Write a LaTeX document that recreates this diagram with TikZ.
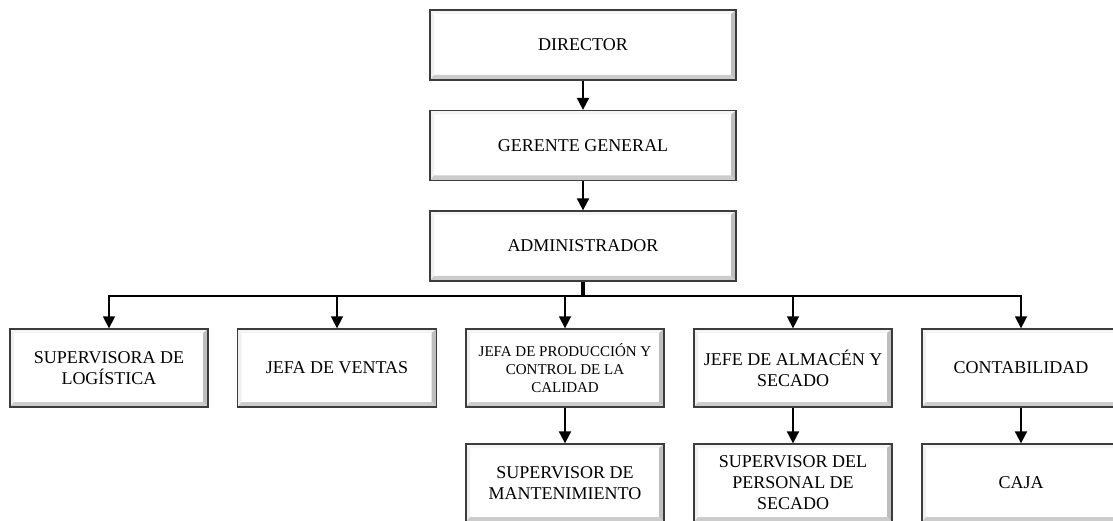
\documentclass[tikz,border=0pt]{standalone}
\usepackage{fontspec}
\setmainfont{Liberation Serif}
\usetikzlibrary{arrows.meta}
\definecolor{edgegray}{HTML}{3C3C3C}
\tikzset{
  orgbox/.style={draw=edgegray, line width=1.3bp, fill=white, inner sep=0pt, align=center,
    font=\fontsize{18bp}{21bp}\selectfont,
    path picture={
      % left (light)
      \fill[gray!12] (path picture bounding box.south west) -- ([shift={(4bp,5bp)}]path picture bounding box.south west) -- ([shift={(4bp,-4bp)}]path picture bounding box.north west) -- (path picture bounding box.north west) -- cycle;
      % top (light)
      \fill[gray!8] (path picture bounding box.north west) -- ([shift={(4bp,-4bp)}]path picture bounding box.north west) -- ([shift={(-5bp,-4bp)}]path picture bounding box.north east) -- (path picture bounding box.north east) -- cycle;
      % right (dark)
      \fill[gray!50] (path picture bounding box.north east) -- ([shift={(-5bp,-4bp)}]path picture bounding box.north east) -- ([shift={(-5bp,5bp)}]path picture bounding box.south east) -- (path picture bounding box.south east) -- cycle;
      % bottom (dark)
      \fill[gray!40] (path picture bounding box.south east) -- ([shift={(-5bp,5bp)}]path picture bounding box.south east) -- ([shift={(4bp,5bp)}]path picture bounding box.south west) -- (path picture bounding box.south west) -- cycle;
    }},
  smallfont/.style={font=\fontsize{15bp}{18.3bp}\selectfont},
  arr/.style={line width=2bp, -{Triangle[width=12bp,length=12bp]}},
  busarr/.style={line width=1.6bp, -{Triangle[width=12bp,length=12bp]}},
}
\begin{document}
\begin{tikzpicture}[x=1bp, y=-1bp]
\clip (0,0) rectangle (1113,521);
\fill[white] (0,0) rectangle (1113,521);
% top column
\node[orgbox, minimum width=306bp, minimum height=70bp] (dir) at (583,45) {DIRECTOR};
\node[orgbox, minimum width=306bp, minimum height=70bp] (ger) at (583,145.5) {GERENTE GENERAL};
\node[orgbox, minimum width=306bp, minimum height=70bp] (adm) at (583,246) {ADMINISTRADOR};
% second row
\node[orgbox, minimum width=198bp, minimum height=78bp] (sup) at (109,368) {SUPERVISORA DE\\LOGÍSTICA};
\node[orgbox, minimum width=199bp, minimum height=78bp] (ven) at (337,368) {JEFA DE VENTAS};
\node[orgbox, smallfont, minimum width=198bp, minimum height=78bp] (pro) at (565,368) {JEFA DE PRODUCCIÓN Y\\CONTROL DE LA\\CALIDAD};
\node[orgbox, minimum width=198bp, minimum height=78bp] (alm) at (793,368) {JEFE DE ALMACÉN Y\\SECADO};
\node[orgbox, minimum width=198bp, minimum height=78bp] (con) at (1021,368) {CONTABILIDAD};
% third row
\node[orgbox, minimum width=198bp, minimum height=78bp] (man) at (565,483) {SUPERVISOR DE\\MANTENIMIENTO};
\node[orgbox, minimum width=198bp, minimum height=78bp] (per) at (793,483) {SUPERVISOR DEL\\PERSONAL DE\\SECADO};
\node[orgbox, minimum width=198bp, minimum height=78bp] (caj) at (1021,483) {CAJA};
% connectors
\draw[arr] (dir) -- (ger);
\draw[arr] (ger) -- (adm);
\coordinate (bus) at (583,296);
\draw[line width=3.2bp] (adm.south) -- (bus);
\draw[busarr] (bus) -| (sup);
\draw[busarr] (bus) -| (ven);
\draw[busarr] (bus) -| (pro);
\draw[busarr] (bus) -| (alm);
\draw[busarr] (bus) -| (con);
\draw[arr] (pro) -- (man);
\draw[arr] (alm) -- (per);
\draw[arr] (con) -- (caj);
\end{tikzpicture}
\end{document}
